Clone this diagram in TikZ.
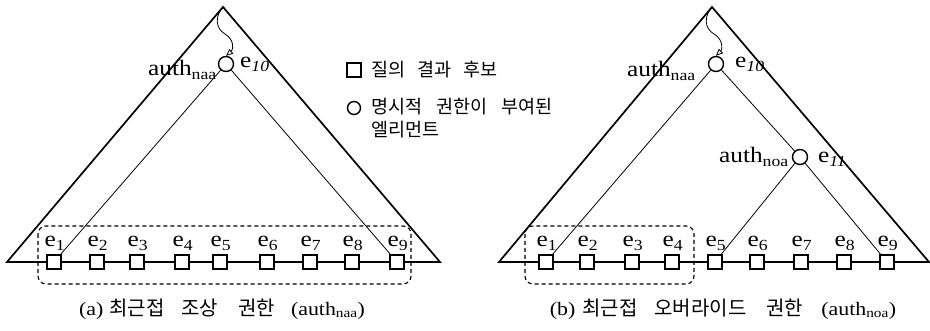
\documentclass[tikz,border=0pt]{standalone}
\usepackage{fontspec}
\setmainfont[FakeStretch=1.15]{Liberation Serif}
\newfontfamily\kr{Noto Sans CJK KR}
\usetikzlibrary{arrows.meta}
\begin{document}
\begin{tikzpicture}[x=1pt,y=-1pt,
  tri/.style={line width=1.7pt, line join=miter},
  link/.style={line width=0.8pt},
  sq/.style={draw, fill=white, line width=1.3pt, minimum size=14pt, inner sep=0pt},
  circ/.style={draw, fill=white, circle, line width=1.4pt, minimum size=15pt, inner sep=0pt},
  elab/.style={font=\fontsize{22}{22}\selectfont, inner sep=0pt, anchor=base},
  authlab/.style={font=\fontsize{22}{22}\selectfont, inner sep=0pt, anchor=base east},
  toplab/.style={font=\fontsize{22}{22}\selectfont, inner sep=0pt, anchor=base west},
  selbox/.style={line width=1.1pt, rounded corners=8pt, dash pattern=on 4pt off 3pt},
  captext/.style={font=\fontsize{19}{19}\selectfont, inner sep=0pt},
  krcap/.style={font=\kr\fontsize{20}{20}\selectfont},
  legtext/.style={font=\kr\fontsize{18.5}{23}\selectfont, inner sep=0pt, align=left},
  wav/.style={line width=0.8pt, -{Triangle[open,length=7pt,width=6pt]}}
]
\useasboundingbox (0,0) rectangle (930,331);

% ---------- panel (a) ----------
\coordinate (aTop) at (223,7);
\coordinate (aL) at (7,262);
\coordinate (aR) at (440,262);
\draw[tri] (aTop) -- (aL) -- (aR) -- cycle;
\draw[selbox] (38,226) rectangle (411,284);
\foreach \i/\x in {1/54,2/97,3/137,4/182,5/220,6/267,7/310,8/352,9/397}{
  \node[sq] (a\i) at (\x,262) {};
  \node[elab] (ae\i) at (\x+1,247) {e\textsubscript{\i}};
}
\node[circ] (a10) at (226,64) {};
\draw[link] (a10) -- (a1);
\draw[link] (a10) -- (a9);
\draw[wav] (aTop) .. controls (215,16) and (215,28) .. (225,34) .. controls (235,40) and (233,50) .. (a10.north);
\node[authlab] (aauth) at (217,76) {auth\textsubscript{naa}};
\node[toplab] (ae10) at (240,68) {e\textsubscript{\textit{10}}};
\node[captext] (capa) at (222,309) {(a)\hspace{6pt}{\kr\fontsize{20}{20}\selectfont 최근접\hspace{17pt}조상\hspace{20pt}권한}\hspace{16pt}(auth\textsubscript{naa})};

% ---------- legend ----------
\node[sq] (lsq) at (354,70) {};
\node[legtext, anchor=west] (lt1) at (371,70) {질의\hspace{12pt}결과\hspace{12pt}후보};
\node[circ, minimum size=13pt] (lci) at (354,108) {};
\node[legtext, anchor=north west] (lt2) at (371,98) {명시적\hspace{14pt}권한이\hspace{14pt}부여된\\엘리먼트};

% ---------- panel (b) ----------
\coordinate (bTop) at (712,7);
\coordinate (bL) at (499,262);
\coordinate (bR) at (929,262);
\draw[tri] (bTop) -- (bL) -- (bR) -- cycle;
\draw[selbox] (525,226) rectangle (694,284);
\foreach \i/\x in {1/546,2/587,3/632,4/672,5/715,6/757,7/801,8/844,9/887}{
  \node[sq] (b\i) at (\x,262) {};
  \node[elab] (be\i) at (\x+1,247) {e\textsubscript{\i}};
}
\node[circ] (b10) at (716,64) {};
\node[circ] (b11) at (800,157) {};
\draw[link] (b10) -- (b1);
\draw[link] (b10) -- (b11);
\draw[link] (b11) -- (b5);
\draw[link] (b11) -- (b9);
\draw[wav] (bTop) .. controls (704,16) and (704,28) .. (714,34) .. controls (724,40) and (722,50) .. (b10.north);
\node[authlab] (bauth) at (696,77) {auth\textsubscript{naa}};
\node[toplab] (be10) at (735,68) {e\textsubscript{\textit{10}}};
\node[authlab] (bauth2) at (789,163) {auth\textsubscript{noa}};
\node[toplab] (be11) at (818,163) {e\textsubscript{\textit{11}}};
\node[captext] (capb) at (723,309) {(b)\hspace{7pt}{\kr\fontsize{20}{20}\selectfont 최근접\hspace{17pt}오버라이드\hspace{20pt}권한}\hspace{18pt}(auth\textsubscript{noa})};
\end{tikzpicture}
\end{document}
